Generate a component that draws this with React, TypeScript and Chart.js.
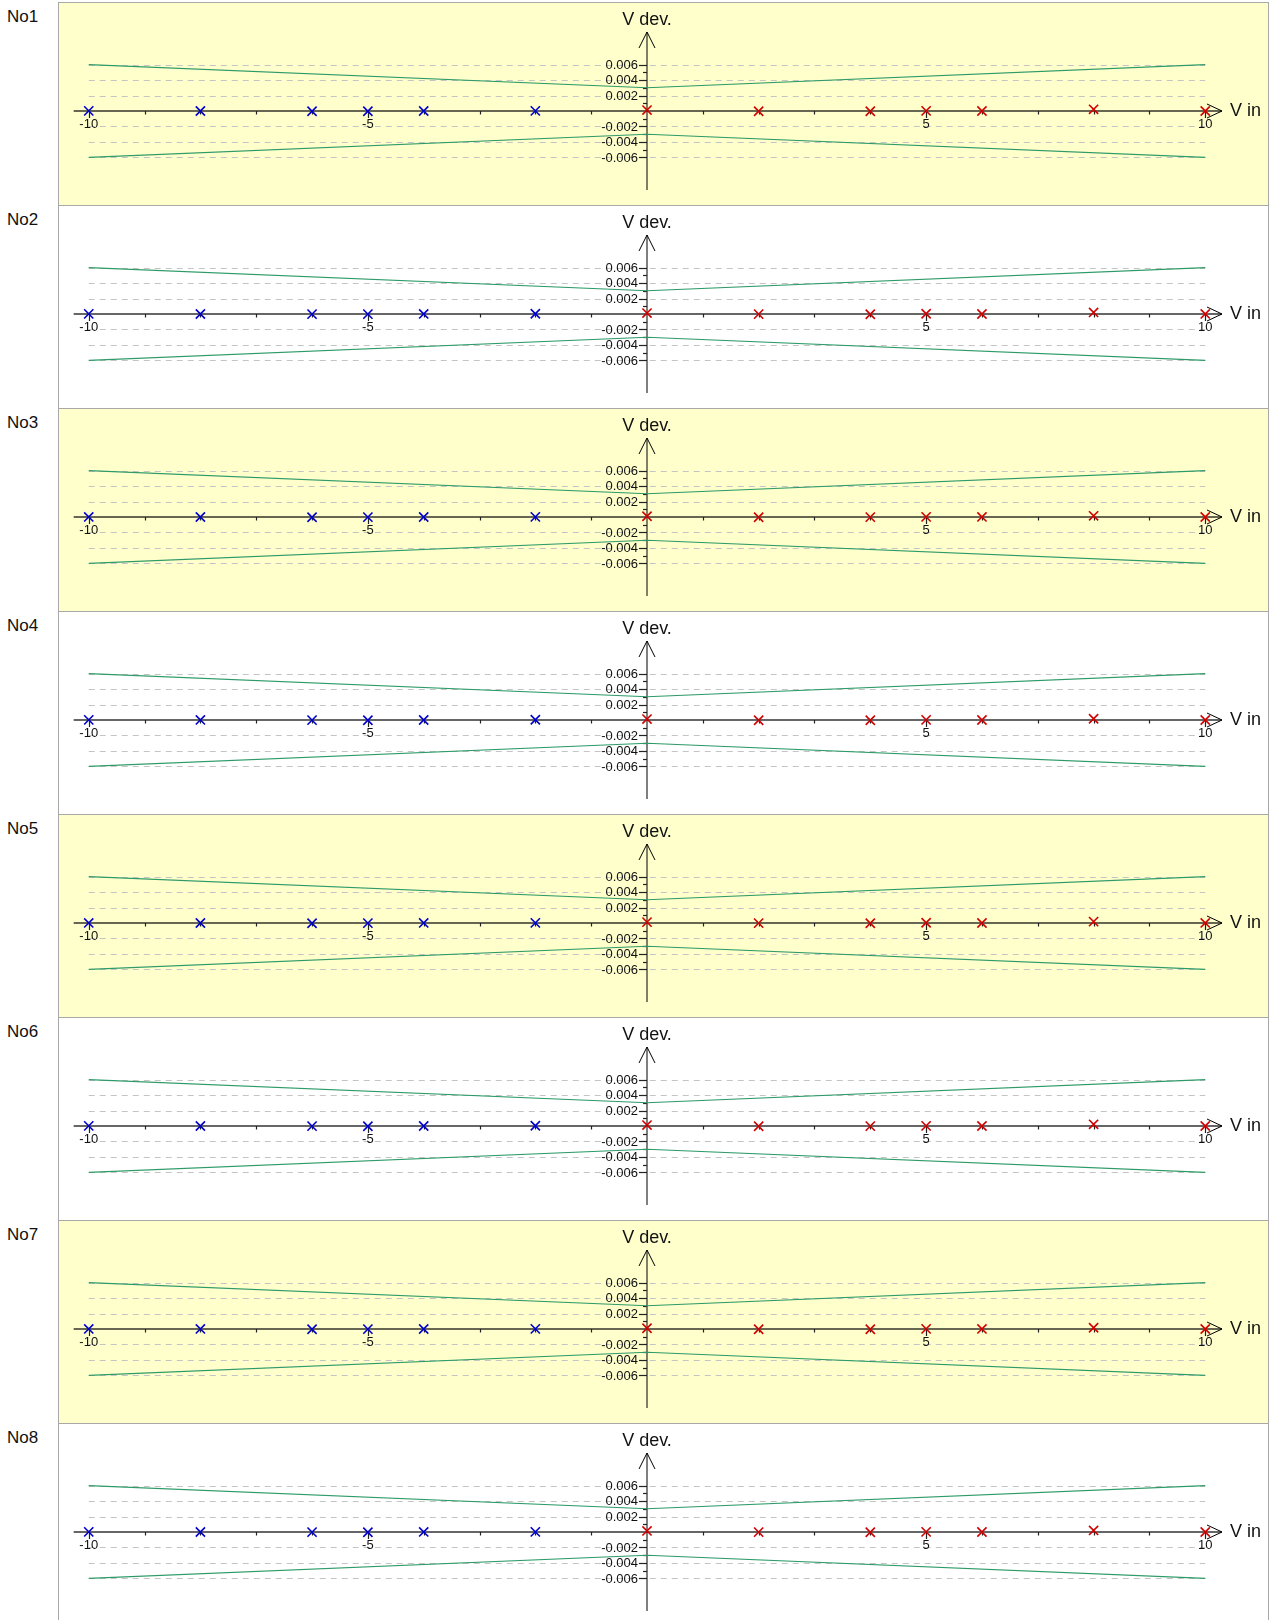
import React, { useEffect, useRef } from "react";
import { Chart, registerables } from "chart.js";

Chart.register(...registerables);

// ---------- data ----------
const panelNames = ["No1", "No2", "No3", "No4", "No5", "No6", "No7", "No8"];
const panelBackgrounds = ["#ffffcc", "#ffffff", "#ffffcc", "#ffffff", "#ffffcc", "#ffffff", "#ffffcc", "#ffffff"];

const limitX = [-10, 0, 10];
const limitUpper = [0.006, 0.003, 0.006];
const limitLower = [-0.006, -0.003, -0.006];

const blueX = [-10, -8, -6, -5, -4, -2];
const redX = [0, 2, 4, 5, 6, 8, 10];

const blueDev = [
  [0.00002, 0.0, -0.00003, -0.00003, 0.0, 0.00002],
  [0.00002, 0.0, -0.00002, -0.00002, 0.00001, 0.00003],
  [0.00001, 0.0, -0.00003, -0.00002, 0.0, 0.00002],
  [0.00002, 0.00001, -0.00002, -0.00003, 0.0, 0.00003],
  [0.00001, 0.0, -0.00003, -0.00002, 0.00001, 0.00002],
  [0.00002, 0.0, -0.00002, -0.00003, 0.0, 0.00003],
  [0.00001, 0.00001, -0.00003, -0.00002, 0.0, 0.00002],
  [0.00002, 0.0, -0.00002, -0.00003, 0.00001, 0.00002],
];
const redDev = [
  [0.00012, -0.00003, -0.00003, 0.00002, 0.0, 0.00022, 0.0],
  [0.00012, -0.00002, -0.00003, 0.00003, 0.0, 0.0002, 0.00001],
  [0.0001, -0.00003, -0.00002, 0.00002, 0.00001, 0.00015, 0.0],
  [0.00012, -0.00003, -0.00003, 0.00002, 0.0, 0.00016, 0.0],
  [0.00011, -0.00002, -0.00003, 0.00003, 0.0, 0.00018, 0.00001],
  [0.00012, -0.00003, -0.00002, 0.00002, 0.0, 0.00022, 0.0],
  [0.0001, -0.00003, -0.00003, 0.00002, 0.00001, 0.00016, 0.0],
  [0.00014, -0.00002, -0.00003, 0.00002, 0.0, 0.0002, 0.0],
];

const xMinorTicks = [-10, -9, -8, -7, -6, -5, -4, -3, -2, -1, 1, 2, 3, 4, 5, 6, 7, 8, 9, 10];
const xMajorTicks = [-10, -5, 5, 10];
const xTickLabels = ["-10", "-5", "5", "10"];
const yMinorTicks = [0.005, 0.003, 0.001, -0.001, -0.003, -0.005];
const yMajorTicks = [0.006, 0.004, 0.002, -0.002, -0.004, -0.006];
const yTickLabels = ["0.006", "0.004", "0.002", "-0.002", "-0.004", "-0.006"];
const xTitle = "V in";
const yTitle = "V dev.";

const X_MIN = -10.3;
const X_MAX = 10.3;
const Y_MIN = -0.0102;
const Y_MAX = 0.0102;

const FONT = '"Liberation Sans", Arial, sans-serif';

const axesPlugin = {
  id: "centerAxes",
  beforeDatasetsDraw(chart: any) {
    const { ctx } = chart;
    const xs = chart.scales.x;
    const ys = chart.scales.y;
    const x0 = xs.getPixelForValue(0);
    const y0 = ys.getPixelForValue(0);
    const gl = xs.getPixelForValue(-10);
    const gr = xs.getPixelForValue(10);

    ctx.save();
    // dashed grid lines
    ctx.strokeStyle = "#c4c4c4";
    ctx.lineWidth = 1;
    ctx.setLineDash([6, 5]);
    for (const v of yMajorTicks) {
      const py = Math.round(ys.getPixelForValue(v)) + 0.5;
      ctx.beginPath();
      ctx.moveTo(gl, py);
      ctx.lineTo(gr, py);
      ctx.stroke();
    }
    ctx.setLineDash([]);

    // x axis
    const xLeft = xs.getPixelForValue(-10.27);
    const xTip = xs.getPixelForValue(X_MAX);
    ctx.strokeStyle = "rgba(0,0,0,0.6)";
    ctx.lineWidth = 2;
    ctx.beginPath();
    ctx.moveTo(xLeft, y0);
    ctx.lineTo(xTip, y0);
    ctx.stroke();

    // y axis
    const yTop = ys.getPixelForValue(Y_MAX);
    const yBot = ys.getPixelForValue(Y_MIN);
    ctx.strokeStyle = "rgba(0,0,0,0.5)";
    ctx.beginPath();
    ctx.moveTo(x0, yBot);
    ctx.lineTo(x0, yTop);
    ctx.stroke();

    // arrows
    ctx.strokeStyle = "#000";
    ctx.lineWidth = 1;
    ctx.beginPath();
    ctx.moveTo(xTip - 15, y0 - 7);
    ctx.lineTo(xTip, y0);
    ctx.lineTo(xTip - 15, y0 + 7);
    ctx.stroke();
    ctx.beginPath();
    ctx.moveTo(x0 - 8, yTop + 16);
    ctx.lineTo(x0, yTop);
    ctx.lineTo(x0 + 8, yTop + 16);
    ctx.stroke();

    // x ticks
    ctx.strokeStyle = "#222";
    ctx.lineWidth = 1.2;
    for (const v of xMinorTicks) {
      const px = Math.round(xs.getPixelForValue(v)) + 0.5;
      const major = xMajorTicks.includes(v);
      ctx.beginPath();
      ctx.moveTo(px, y0);
      ctx.lineTo(px, y0 + (major ? 7 : 3.5));
      ctx.stroke();
    }
    // y ticks
    for (const v of yMajorTicks) {
      const py = Math.round(ys.getPixelForValue(v)) + 0.5;
      ctx.beginPath();
      ctx.moveTo(x0 - 8, py);
      ctx.lineTo(x0, py);
      ctx.stroke();
    }
    for (const v of yMinorTicks) {
      const py = Math.round(ys.getPixelForValue(v)) + 0.5;
      ctx.beginPath();
      ctx.moveTo(x0 - 4, py);
      ctx.lineTo(x0, py);
      ctx.stroke();
    }

    // tick labels
    ctx.fillStyle = "#111";
    ctx.font = "13px " + FONT;
    ctx.textAlign = "center";
    ctx.textBaseline = "middle";
    xMajorTicks.forEach((v, i) => {
      ctx.fillText(xTickLabels[i], xs.getPixelForValue(v), y0 + 13);
    });
    ctx.textAlign = "right";
    yMajorTicks.forEach((v, i) => {
      ctx.fillText(yTickLabels[i], x0 - 9, ys.getPixelForValue(v) + 0.5);
    });

    // titles
    ctx.font = "18px " + FONT;
    ctx.textAlign = "center";
    ctx.textBaseline = "middle";
    ctx.fillText(yTitle, x0, yTop - 12);
    ctx.textAlign = "left";
    ctx.fillText(xTitle, xTip + 8, y0);
    ctx.restore();
  },
};

function Panel({ index }: { index: number }) {
  const ref = useRef<HTMLCanvasElement | null>(null);
  useEffect(() => {
    if (!ref.current) return;
    const chart = new Chart(ref.current, {
      type: "scatter",
      data: {
        datasets: [
          {
            data: limitX.map((x, i) => ({ x, y: limitUpper[i] })),
            showLine: true,
            borderColor: "#2e9a68",
            borderWidth: 1.2,
            pointRadius: 0,
            tension: 0,
          },
          {
            data: limitX.map((x, i) => ({ x, y: limitLower[i] })),
            showLine: true,
            borderColor: "#2e9a68",
            borderWidth: 1.2,
            pointRadius: 0,
            tension: 0,
          },
          {
            data: blueX.map((x, i) => ({ x, y: blueDev[index][i] })),
            pointStyle: "crossRot",
            pointRadius: 6.5,
            borderColor: "#0000cc",
            backgroundColor: "#0000cc",
            pointBorderWidth: 1.6,
            showLine: false,
          },
          {
            data: redX.map((x, i) => ({ x, y: redDev[index][i] })),
            pointStyle: "crossRot",
            pointRadius: 6.5,
            borderColor: "#d00000",
            backgroundColor: "#d00000",
            pointBorderWidth: 1.6,
            showLine: false,
          },
        ] as any,
      },
      options: {
        animation: false,
        responsive: false,
        maintainAspectRatio: false,
        events: [],
        layout: { padding: { left: 13, right: 46, top: 29, bottom: 15 } },
        scales: {
          x: { type: "linear", min: X_MIN, max: X_MAX, display: false },
          y: { type: "linear", min: Y_MIN, max: Y_MAX, display: false },
        },
        plugins: { legend: { display: false }, tooltip: { enabled: false } },
      } as any,
      plugins: [axesPlugin],
    });
    return () => chart.destroy();
  }, [index]);

  return (
    <div style={{ position: "absolute", left: 0, top: index * 203, width: 1269, height: 203 }}>
      <div
        style={{
          position: "absolute",
          left: 7,
          top: 5,
          fontFamily: FONT,
          fontSize: 17,
          color: "#111",
          lineHeight: "normal",
        }}
      >
        {panelNames[index]}
      </div>
      <div
        style={{
          position: "absolute",
          left: 58,
          top: 0,
          width: 1211,
          height: 203,
          boxSizing: "border-box",
          borderTop: "1px solid #a8a8a8",
          borderLeft: "1px solid #a8a8a8",
          borderRight: "1px solid #a8a8a8",
          background: panelBackgrounds[index],
        }}
      >
        <canvas
          ref={ref}
          width={1209}
          height={202}
          style={{ position: "absolute", left: 0, top: 0, width: 1209, height: 202 }}
        />
      </div>
    </div>
  );
}

export default function App() {
  useEffect(() => {
    document.body.style.margin = "0";
    document.body.style.overflow = "hidden";
    document.documentElement.style.overflow = "hidden";
  }, []);
  return (
    <div style={{ position: "absolute", left: 0, top: 2, width: 1269, height: 1618, overflow: "hidden" }}>
      {panelNames.map((_, i) => (
        <Panel key={i} index={i} />
      ))}
    </div>
  );
}
